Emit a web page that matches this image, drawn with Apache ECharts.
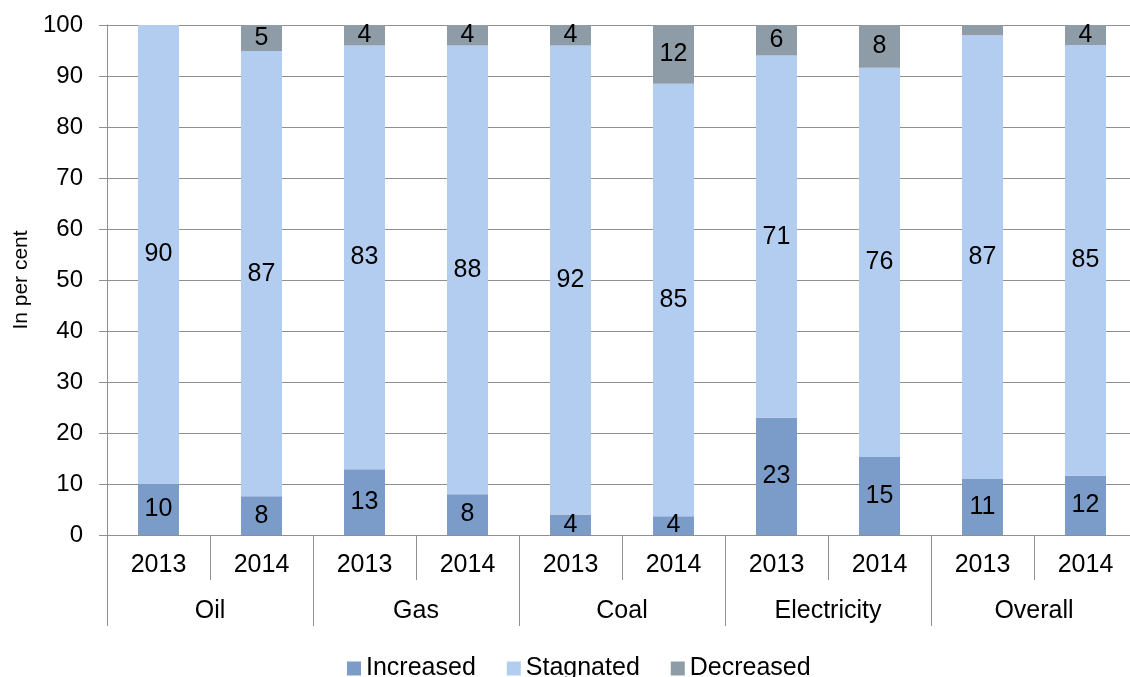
<!DOCTYPE html>
<html>
<head>
<meta charset="utf-8">
<script src="https://cdn.jsdelivr.net/npm/echarts@6/dist/echarts.min.js"></script>
<style>
html,body{margin:0;padding:0;background:#fff;}
#chart{width:1130px;height:677px;}
</style>
</head>
<body>
<div id="chart"></div>
<script>
const years = ['2013','2014','2013','2014','2013','2014','2013','2014','2013','2014'];
const groups = ['Oil','Gas','Coal','Electricity','Overall'];
const seriesNames = ['Increased','Stagnated','Decreased'];
const increased = [10, 7.6, 12.9, 8, 4, 3.7, 23, 15.3, 11, 11.6];
const stagnated = [90, 87.3, 83.1, 88, 92, 84.8, 71, 76.3, 87, 84.5];
const decreased = [0, 5.1, 4, 4, 4, 11.5, 6, 8.4, 2, 3.9];
const yTicks = [0,10,20,30,40,50,60,70,80,90,100];

const colors = ['#7b9bc8','#b3cdf1','#8e9ca8'];
const gridColor = '#8f8f8f';
const font = 'Liberation Sans, Arial, sans-serif';

const chart = echarts.init(document.getElementById('chart'), null, {renderer:'canvas'});
const dataSets = [increased, stagnated, decreased];

const option = {
  animation: false,
  textStyle: {fontFamily: font},
  grid: {left:107, width:1030, top:25, height:510, containLabel:false, outerBoundsMode:'none'},
  legend: {
    data: seriesNames,
    left: 342, top: 651,
    itemWidth: 14, itemHeight: 14, itemGap: 31,
    icon: 'rect',
    textStyle: {fontSize: 25, color:'#000', fontFamily: font}
  },
  xAxis: [
    {
      type:'category', data: years, position:'bottom',
      axisLine:{show:true, lineStyle:{color:gridColor, width:1}},
      axisTick:{show:true, interval:0, length:45, lineStyle:{color:gridColor, width:1}},
      axisLabel:{interval:0, fontSize:25, color:'#000', margin:18, fontFamily:font},
      splitLine:{show:false}
    },
    {
      type:'category', data: groups, position:'bottom', gridIndex:0,
      axisLine:{show:false},
      axisTick:{show:true, interval:0, length:91, lineStyle:{color:gridColor, width:1}},
      axisLabel:{interval:0, fontSize:25, color:'#000', margin:64, fontFamily:font},
      splitLine:{show:false}
    }
  ],
  yAxis: {
    type:'value', min: yTicks[0], max: yTicks[yTicks.length-1], interval: 10,
    name:'In per cent', nameLocation:'middle', nameGap:73,
    nameTextStyle:{fontSize:21, color:'#000', fontFamily:font},
    axisLine:{show:true, lineStyle:{color:gridColor, width:1}},
    axisTick:{show:true, length:8, lineStyle:{color:gridColor, width:1}},
    axisLabel:{fontSize:24, color:'#000', margin:24, fontFamily:font},
    splitLine:{show:true, lineStyle:{color:gridColor, width:1}}
  },
  series: seriesNames.map((name,i)=>({
    name: name, type:'bar', stack:'total', xAxisIndex:0,
    data: dataSets[i],
    barWidth: 41,
    itemStyle:{color: colors[i]},
    label:{
      show:true, position:'inside', color:'#000', fontSize:25, fontFamily:font,
      formatter: p => (p.value >= 3 ? String(Math.round(p.value)) : '')
    }
  }))
};
chart.setOption(option);
</script>
</body>
</html>
